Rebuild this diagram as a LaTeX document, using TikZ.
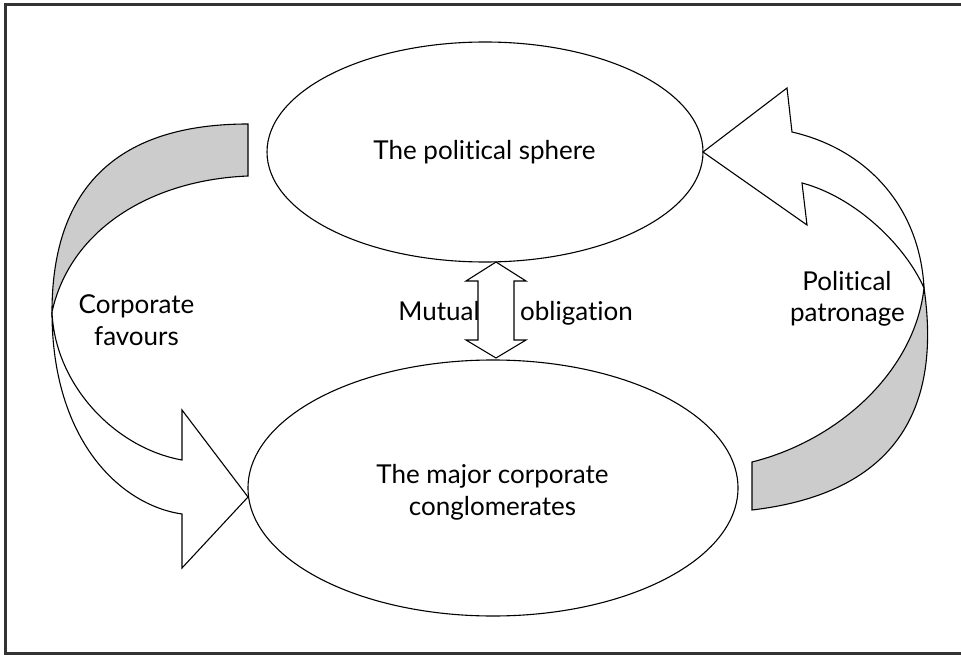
\documentclass[tikz,border=0pt]{standalone}
\usepackage{fontspec}
\setmainfont{Lato}[Ligatures={NoCommon,NoRequired,NoContextual},Contextuals=NoAlternate,RawFeature={-liga;-dlig;-calt;-clig}]
\usetikzlibrary{shapes.geometric}
\begin{document}
\begin{tikzpicture}[x=1pt,y=-1pt,
  ell/.style={draw=black, line width=1.1pt, ellipse, inner sep=0pt},
  txt/.style={font=\fontsize{26}{30}\selectfont, anchor=base, inner sep=0pt},
  blk/.style={draw=black, line width=1.1pt, line join=miter},
  back/.style={blk, fill=black!20},
  front/.style={blk, fill=white}]
\useasboundingbox (0,0) rectangle (961,655);
\fill[white] (0,0) rectangle (961,655);
\draw[line width=2.4pt, black!80] (975,4.5) -- (5.3,4.5) -- (5.3,653.3) -- (975,653.3);

% left curved arrow (Corporate favours)
\coordinate (LA) at (248,124);
\coordinate (LL) at (52,312);
\coordinate (LB) at (182,514);
\coordinate (LG) at (248,176);
\coordinate (LI) at (182,460);
\draw[back] (LA) .. controls (120,124) and (52,185) .. (LL)
  .. controls (70,230) and (150,180) .. (LG) -- cycle;
\draw[front] (LL) .. controls (52,440) and (120,505) .. (LB)
  -- (182,568) -- (248,497) -- (182,410) -- (LI)
  .. controls (115,448) and (55,385) .. (LL) -- cycle;

% right curved arrow (Political patronage)
\coordinate (RR) at (924,288);
\draw[front] (792,132) .. controls (870,150) and (920,210) .. (RR)
  .. controls (905,245) and (855,197) .. (802,183)
  -- (807,225) -- (703,152) -- (787,88) -- cycle;
\draw[back] (RR) .. controls (944,425) and (880,495) .. (752,510)
  -- (752,462) .. controls (840,440) and (915,370) .. (RR) -- cycle;

% ellipses
\node[ell, minimum width=436pt, minimum height=220pt] (pol) at (485,152) {};
\node[ell, minimum width=490pt, minimum height=256pt] (corp) at (493,488) {};

% mutual obligation double arrow
\coordinate (mtop) at (496,262);
\coordinate (mbot) at (496,358);
\draw[front] (mtop) -- (526,281) -- (514,281) -- (514,340) -- (526,340) -- (mbot)
  -- (466,340) -- (478,340) -- (478,281) -- (466,281) -- cycle;

% texts
\node[txt] (t1) at (484.5,160) {The political sphere};
\node[txt] (t2a) at (492.5,483) {The major corporate};
\node[txt] (t2b) at (492.5,515) {conglomerates};
\node[txt] (t3a) at (136.5,313) {Corporate};
\node[txt] (t3b) at (136.5,345) {favours};
\node[txt] (t4a) at (847,290) {Political};
\node[txt] (t4b) at (847.5,321) {patronage};
\node[txt] (t5a) at (439,320) {Mutual};
\node[txt] (t5b) at (576.5,320) {obligation};
\end{tikzpicture}
\end{document}
